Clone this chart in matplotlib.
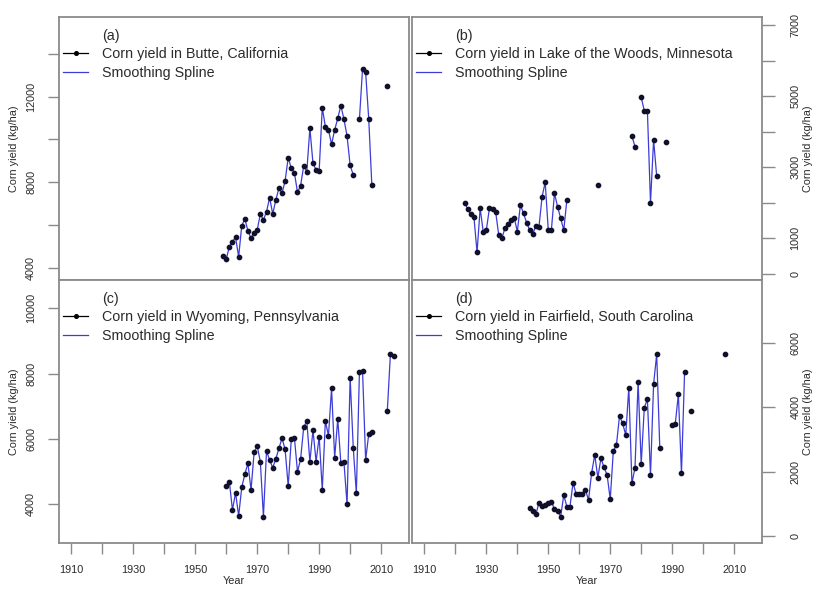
import numpy as np
import matplotlib
matplotlib.use("Agg")
import matplotlib.pyplot as plt
from matplotlib.lines import Line2D

plt.rcParams['font.family'] = ['Liberation Sans', 'DejaVu Sans']

# ---------------- data ----------------
# (a) Butte, California
years_a = list(range(1959, 2002)) + list(range(2003, 2008)) + [2012]
yield_a = [4548, 4407, 4983, 5217, 5423, 4515, 5966, 6279, 5732, 5376,
           5638, 5764, 6513, 6232, 6621, 7276, 6513, 7168, 7716, 7482,
           8058, 9148, 8652, 8446, 7529, 7838, 8760, 8493, 10524, 8886,
           8572, 8540, 11488, 10599, 10444, 9773, 10444, 10992, 11582, 10945,
           10164, 8792, 8338,
           10959, 13299, 13145, 10959, 7870,
           12518]

# (b) Lake of the Woods, Minnesota
years_b = list(range(1923, 1957)) + [1966, 1977, 1978] + list(range(1980, 1986)) + [1988]
yield_b = [2004, 1818, 1677, 1593, 609, 1846, 1190, 1237, 1846, 1818,
           1752, 1096, 1003, 1284, 1406, 1518, 1583, 1190, 1940, 1705,
           1443, 1237, 1124, 1359, 1331, 2174, 2577, 1237, 1237, 2268,
           1893, 1565, 1237, 2080,
           2502, 3879, 3579,
           4966, 4591, 4582, 2004, 3767, 2755,
           3701]

# (c) Wyoming, Pennsylvania
years_c = list(range(1960, 2008)) + [2012, 2013, 2014]
yield_c = [4562, 4685, 3816, 4347, 3632, 4511, 4910, 5248, 4429, 5585,
           5778, 5298, 3612, 5625, 5349, 5114, 5380, 5707, 6014, 5677,
           4552, 5983, 6033, 4991, 5370, 6352, 6545, 5298, 6269, 5298,
           6064, 4429, 6545, 6094, 7547, 5421, 6606, 5248, 5278, 3990,
           7873, 5727, 4327, 8057, 8088, 5349, 6146, 6217,
           6861, 8599, 8548]

# (d) Fairfield, South Carolina
years_d = list(range(1944, 1987)) + list(range(1990, 1995)) + [1996, 2007]
yield_d = [879, 786, 673, 1035, 942, 962, 1014, 1066, 838, 786,
           600, 1273, 910, 910, 1655, 1293, 1304, 1293, 1428, 1117,
           1966, 2514, 1811, 2411, 2131, 1893, 1138, 2638, 2825, 3725,
           3497, 3135, 4604, 1635, 2121, 4790, 2235, 3983, 4242, 1893,
           4718, 5639, 2742,
           3446, 3476, 4408, 1945, 5080,
           3890, 5639]

panel_tags = ["(a)", "(b)", "(c)", "(d)"]
series_labels = ["Corn yield in Butte, California",
                 "Corn yield in Lake of the Woods, Minnesota",
                 "Corn yield in Wyoming, Pennsylvania",
                 "Corn yield in Fairfield, South Carolina"]
spline_label = "Smoothing Spline"
x_ticks = list(range(1910, 2011, 10))
x_ticklabels = [str(t) if (t - 1910) % 20 == 0 else "" for t in x_ticks]

yticks_a = [4000, 6000, 8000, 10000, 12000, 14000]
ylabels_a = ["4000", "", "8000", "", "12000", ""]
yticks_b = [0, 1000, 2000, 3000, 4000, 5000, 6000, 7000]
ylabels_b = ["0", "1000", "", "3000", "", "5000", "", "7000"]
yticks_c = [4000, 6000, 8000, 10000]
ylabels_c = ["4000", "6000", "8000", "10000"]
yticks_d = [0, 2000, 4000, 6000]
ylabels_d = ["0", "2000", "4000", "6000"]

ylabel = "Corn yield (kg/ha)"
xlabel = "Year"

# ---------------- styling ----------------
W, H = 817, 590
LINE_C = '#3c3cd8'
PT_C = '#10102a'
SPINE_C = '#8a8a8a'
TXT_C = '#2a2a2a'

fig = plt.figure(figsize=(W / 100, H / 100), dpi=100)


def add_ax(l, t, r, b):
    return fig.add_axes([l / W, 1 - b / H, (r - l) / W, (b - t) / H])


ax_a = add_ax(59, 17, 409, 280)
ax_b = add_ax(412, 17, 762, 280)
ax_c = add_ax(59, 280, 409, 543)
ax_d = add_ax(412, 280, 762, 543)


def with_gaps(years, vals):
    xs, ys = [], []
    for i, (x, v) in enumerate(zip(years, vals)):
        if i and x - years[i - 1] > 1:
            xs.append(np.nan)
            ys.append(np.nan)
        xs.append(x)
        ys.append(v)
    return xs, ys


def draw(ax, years, vals, tag, lab, ylim, yticks, ylabs, side, bottom):
    xs, ys = with_gaps(years, vals)
    ax.plot(xs, ys, color=LINE_C, lw=0.9, zorder=2)
    ax.plot(years, vals, linestyle='none', marker='o', ms=3.1,
            color=PT_C, zorder=3)
    ax.set_xlim(1906, 2019)
    ax.set_ylim(*ylim)
    for s in ax.spines.values():
        s.set_color(SPINE_C)
        s.set_linewidth(1.3)
    ax.set_xticks(x_ticks)
    if bottom:
        ax.set_xticklabels(x_ticklabels)
        ax.tick_params(axis='x', direction='out', length=8, width=1,
                       color=SPINE_C, labelsize=7.8, labelcolor=TXT_C, pad=7.5)
        ax.set_xlabel(xlabel, fontsize=7.8, color=TXT_C, labelpad=1)
    else:
        ax.tick_params(axis='x', bottom=False, labelbottom=False)
    ax.set_yticks(yticks)
    if side == 'left':
        ax.set_yticklabels(ylabs, rotation=90, va='center')
        ax.tick_params(axis='y', direction='out', length=8, width=1,
                       color=SPINE_C, labelsize=7.8, labelcolor=TXT_C, pad=8.5)
        ax.set_ylabel(ylabel, fontsize=7.8, color=TXT_C, labelpad=5)
    else:
        ax.yaxis.tick_right()
        ax.yaxis.set_label_position('right')
        ax.set_yticklabels(ylabs, rotation=90, va='center')
        ax.tick_params(axis='y', direction='out', length=9, width=1,
                       color=SPINE_C, labelsize=7.8, labelcolor=TXT_C, pad=11.5)
        ax.set_ylabel(ylabel, fontsize=7.8, color=TXT_C, labelpad=2,
                      rotation=90)
    handles = [Line2D([], [], linestyle='none'),
               Line2D([], [], color='black', lw=0.9, marker='o', ms=2.6),
               Line2D([], [], color=LINE_C, lw=0.9)]
    ax.legend(handles, [tag, lab, spline_label], loc='upper left',
              bbox_to_anchor=(4 / 350, 1 - 12 / 263), frameon=False,
              fontsize=10.3, handlelength=1.75, handletextpad=1.0,
              labelspacing=0.3, borderpad=0, borderaxespad=0,
              numpoints=1, labelcolor=TXT_C)


draw(ax_a, years_a, yield_a, panel_tags[0], series_labels[0],
     (3424, 15730), yticks_a, ylabels_a, 'left', False)
draw(ax_b, years_b, yield_b, panel_tags[1], series_labels[1],
     (-169, 7225), yticks_b, ylabels_b, 'right', False)
draw(ax_c, years_c, yield_c, panel_tags[2], series_labels[2],
     (2804, 10868), yticks_c, ylabels_c, 'left', True)
draw(ax_d, years_d, yield_d, panel_tags[3], series_labels[3],
     (-217, 7946), yticks_d, ylabels_d, 'right', True)

fig.savefig("out.png", dpi=100)
